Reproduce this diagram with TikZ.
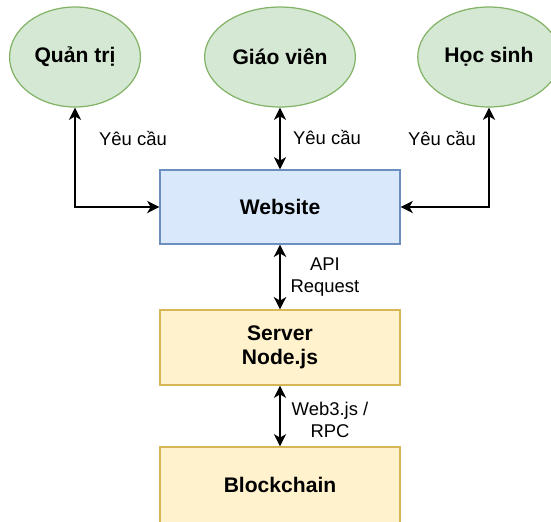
\documentclass[tikz,border=0pt]{standalone}
\usepackage{fontspec}
\setmainfont{Liberation Sans}
\usetikzlibrary{shapes,arrows.meta,positioning}

\definecolor{userfill}{HTML}{D5E8D4}
\definecolor{userline}{HTML}{82B366}
\definecolor{webfill}{HTML}{DAE8FC}
\definecolor{webline}{HTML}{6C8EBF}
\definecolor{srvfill}{HTML}{FFF2CC}
\definecolor{srvline}{HTML}{D6B656}

\begin{document}
\begin{tikzpicture}[x=0.02cm, y=-0.02cm,
    user/.style={ellipse, draw=userline, fill=userfill, line width=0.7pt, minimum width=2.56cm, minimum height=2cm, font=\bfseries\fontsize{12}{14}\selectfont},
    webbox/.style={rectangle, draw=webline, fill=webfill, line width=0.7pt, minimum width=4.8cm, minimum height=1.48cm, font=\bfseries\fontsize{12}{14}\selectfont},
    srvbox/.style={rectangle, draw=srvline, fill=srvfill, line width=0.7pt, minimum width=4.8cm, minimum height=1.5cm, align=center, font=\bfseries\fontsize{12}{14}\selectfont},
    lbl/.style={align=center, font=\fontsize{10.5}{12.5}\selectfont},
    link/.style={{Stealth[length=7pt,width=7pt,inset=2pt]}-{Stealth[length=7pt,width=7pt,inset=2pt]}, line width=0.9pt}]
    \useasboundingbox (0,0) rectangle (551,521);
    % users
    \node[user] (admin) at (75,57) {Quản trị};
    \node[user] (teacher) at (280,57) {Giáo viên};
    \node[user] (student) at (489,57) {Học sinh};
    % system
    \node[webbox] (web) at (280,207) {Website};
    \node[srvbox] (server) at (280,347.5) {Server\\Node.js};
    \node[srvbox, minimum height=1.52cm] (chain) at (280,485) {Blockchain};
    % links
    \draw[link] (admin.south) |- (web.west);
    \draw[link] (teacher) -- (web);
    \draw[link] (student.south) |- (web.east);
    \draw[link, line width=1.4pt] (web) -- (server);
    \draw[link] (server) -- (chain);
    % labels
    \node[lbl] (lbladmin) at (133,138) {Yêu cầu};
    \node[lbl] (lblteacher) at (327,137) {Yêu cầu};
    \node[lbl] (lblstudent) at (442,138) {Yêu cầu};
    \node[lbl] (lblapi) at (325,277) {API\\Request};
    \node[lbl] (lblrpc) at (330,420) {Web3.js /\\RPC};
\end{tikzpicture}
\end{document}
